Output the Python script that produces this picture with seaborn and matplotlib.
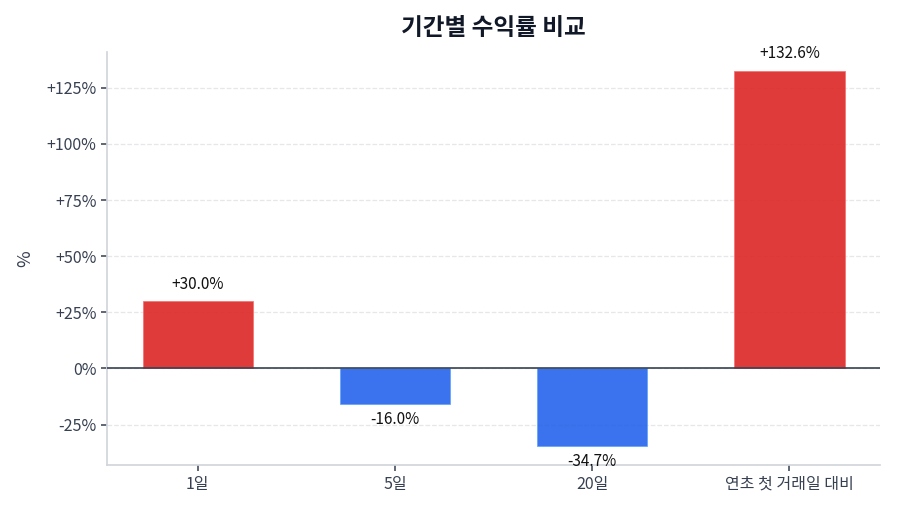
import numpy as np
import pandas as pd
import matplotlib
matplotlib.use('Agg')
import matplotlib.pyplot as plt
import seaborn as sns

# data
periods = ['1일', '5일', '20일', '연초 첫 거래일 대비']
returns = [30.0, -16.0, -34.7, 132.6]

sns.set_theme(style='white')
plt.rcParams['font.family'] = ['Noto Sans CJK KR', 'DejaVu Sans']
plt.rcParams['axes.unicode_minus'] = False

df = pd.DataFrame({'period': periods, 'ret': returns})
colors = ['#dc2626' if v >= 0 else '#2563eb' for v in returns]

fig, ax = plt.subplots(figsize=(9, 5.14), dpi=100)
sns.barplot(data=df, x='period', y='ret', hue='period', palette=colors, saturation=1,
            legend=False, width=0.56, alpha=0.9, linewidth=0.6, ax=ax)
for p, v in zip(ax.patches, returns):
    p.set_edgecolor('#f87171' if v >= 0 else '#60a5fa')

ax.axhline(0, color='#374151', linewidth=1.2, zorder=3)
ax.yaxis.grid(True, linestyle='--', color='#e5e7eb', linewidth=0.9)
ax.set_axisbelow(True)

yt = [-25, 0, 25, 50, 75, 100, 125]
ax.set_yticks(yt)
ax.set_yticklabels([f'{v:+d}%' if v != 0 else '0%' for v in yt])
ax.margins(y=0.05)
ax.set_xlim(-0.46, 3.46)

for i, v in enumerate(returns):
    off = 17 if v >= 0 else -15
    ax.annotate(f'{v:+.1f}%', (i, v), xytext=(0, off), textcoords='offset pixels',
                ha='center', va='center', fontsize=11, color='#111111')

ax.set_title('기간별 수익률 비교', fontsize=17, fontweight='bold', color='#111827', pad=12)
ax.set_xlabel('')
ax.set_ylabel('%', fontsize=13, color='#374151', labelpad=9)
ax.tick_params(axis='both', colors='#374151', labelsize=11.5, length=4, left=True, bottom=True)
ax.tick_params(axis='both', color='#4b5563')
sns.despine(ax=ax)
for s in ['left', 'bottom']:
    ax.spines[s].set_color('#d1d5db')

fig.subplots_adjust(left=0.119, right=0.978, top=0.899, bottom=0.095)
fig.savefig('out.png', dpi=100)
